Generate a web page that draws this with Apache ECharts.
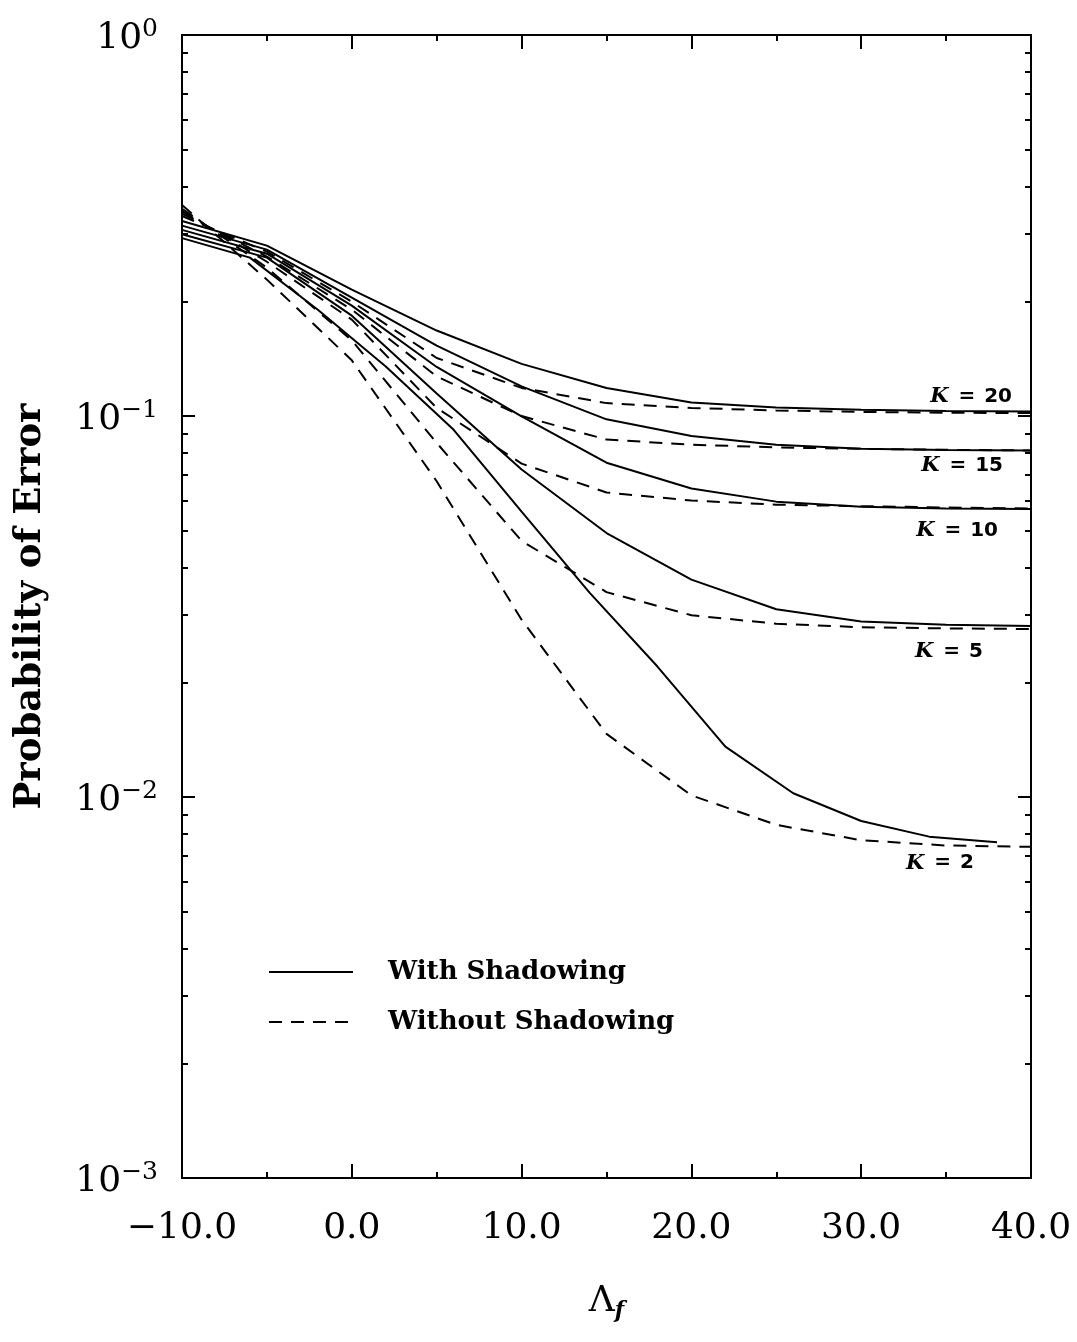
<!DOCTYPE html>
<html>
<head>
<meta charset="utf-8">
<script src="https://cdn.jsdelivr.net/npm/echarts@6/dist/echarts.min.js"></script>
<style>
  html, body { margin: 0; padding: 0; background: #fff; }
  #chart { width: 1077px; height: 1342px; }
</style>
</head>
<body>
<div id="chart"></div>
<script>
// Λf sample points (dB)
const lambdaSteps   = [-10, -5, 0, 5, 10, 15, 20, 25, 30, 35, 40];
const lambdaStepsK2 = [-10, -6, -2, 2, 6, 10, 14, 18, 22, 26, 30, 34, 38];

// Probability of error with shadowing (solid curves)
const shadowK20 = [0.325, 0.280, 0.2146, 0.1676, 0.137, 0.1185, 0.1085, 0.1052, 0.1038, 0.1031, 0.1027];
const shadowK15 = [0.316, 0.2733, 0.2045, 0.153, 0.1196, 0.098, 0.0886, 0.0840, 0.0820, 0.0814, 0.0812];
const shadowK10 = [0.308, 0.2667, 0.1949, 0.1345, 0.0998, 0.0754, 0.0645, 0.0596, 0.0578, 0.0572, 0.0570];
const shadowK5  = [0.300, 0.2604, 0.1834, 0.1146, 0.0724, 0.0493, 0.0372, 0.0311, 0.0289, 0.0283, 0.0281];
const shadowK2  = [0.293, 0.2604, 0.190, 0.1348, 0.092, 0.0561, 0.0344, 0.022, 0.01356, 0.01023, 0.00865, 0.00787, 0.00761];

// Probability of error without shadowing (dashed curves)
const noShadowK20 = [0.335, 0.270, 0.1996, 0.142, 0.1185, 0.1081, 0.105, 0.1034, 0.1025, 0.102, 0.1018];
const noShadowK15 = [0.340, 0.262, 0.1902, 0.127, 0.100, 0.0867, 0.0841, 0.0827, 0.082, 0.0815, 0.0812];
const noShadowK10 = [0.345, 0.254, 0.179, 0.105, 0.075, 0.063, 0.060, 0.0585, 0.058, 0.0575, 0.0572];
const noShadowK5  = [0.350, 0.245, 0.158, 0.085, 0.047, 0.0345, 0.030, 0.0285, 0.0279, 0.0277, 0.0276];
const noShadowK2  = [0.358, 0.228, 0.140, 0.0674, 0.0292, 0.01464, 0.0101, 0.00845, 0.0077, 0.00746, 0.0074];

// Axis ticks
const yMajorTicks = [0.001, 0.01, 0.1, 1];
const yMinorTicks = [];
[0.001, 0.01, 0.1].forEach(function (d) {
  for (let m = 2; m <= 9; m++) yMinorTicks.push(+(d * m).toPrecision(3));
});

const curves = [
  { k: 20, xs: lambdaSteps,   solid: shadowK20, dashed: noShadowK20 },
  { k: 15, xs: lambdaSteps,   solid: shadowK15, dashed: noShadowK15 },
  { k: 10, xs: lambdaSteps,   solid: shadowK10, dashed: noShadowK10 },
  { k: 5,  xs: lambdaSteps,   solid: shadowK5,  dashed: noShadowK5 },
  { k: 2,  xs: lambdaStepsK2, solid: shadowK2,  dashed: noShadowK2 }
];

// Where each "K = n" tag sits relative to the end of its solid curve
const tagOffset = { 20: [-19, -15], 15: [-28, 15], 10: [-33, 22], 5: [-48, 26], 2: [-23, 21] };

function zip(xs, ys) { return xs.map(function (x, i) { return [x, ys[i]]; }); }

const SERIF = "'DejaVu Serif', serif";
const SANS = "'DejaVu Sans', 'Liberation Sans', sans-serif";

const series = [];
curves.forEach(function (c) {
  series.push({
    name: 'With Shadowing',
    type: 'line',
    data: zip(c.xs, c.solid),
    symbol: 'none',
    smooth: false,
    silent: true,
    lineStyle: { color: '#000', width: 2, type: 'solid' },
    itemStyle: { color: '#000' },
    endLabel: {
      show: true,
      distance: 0,
      align: 'right',
      verticalAlign: 'middle',
      offset: tagOffset[c.k],
      formatter: '{k|K}{e|=}{t|' + c.k + '}',
      rich: {
        k: { fontFamily: SERIF, fontStyle: 'italic', fontWeight: 'bold', fontSize: 21, color: '#000' },
        e: { fontFamily: SANS, fontWeight: 'bold', fontSize: 20, color: '#000', padding: [0, 9, 0, 10] },
        t: { fontFamily: SANS, fontWeight: 'bold', fontSize: 20, color: '#000' }
      }
    },
    z: 3
  });
  series.push({
    name: 'Without Shadowing',
    type: 'line',
    data: zip(lambdaSteps, c.dashed),
    symbol: 'none',
    smooth: false,
    silent: true,
    lineStyle: { color: '#000', width: 2, type: [13, 9] },
    itemStyle: { color: '#000' },
    z: 2
  });
});

function powerLabel(v) {
  const e = Math.round(Math.log10(v));
  return '{b|10}{s|' + (e === 0 ? '0' : '\u2212' + (-e)) + '}';
}
const powerRich = {
  b: { fontFamily: SERIF, fontSize: 36, lineHeight: 36, padding: [8, 0, 0, 0], color: '#000' },
  s: { fontFamily: SERIF, fontSize: 25, lineHeight: 25, verticalAlign: 'top', color: '#000' }
};

const frameLine = { show: true, onZero: false, lineStyle: { color: '#000', width: 2 } };
const noLine = { show: false, onZero: false };

function yAxisDef(position, major) {
  return {
    type: 'log',
    logBase: 10,
    min: 0.001,
    max: 1,
    position: position,
    axisLine: major ? frameLine : noLine,
    splitLine: { show: false },
    minorTick: { show: false },
    axisTick: {
      show: true,
      inside: true,
      length: major ? 13 : 6,
      lineStyle: { color: '#000', width: 2 },
      customValues: major ? yMajorTicks : yMinorTicks
    },
    axisLabel: (major && position === 'left') ? {
      show: true,
      customValues: yMajorTicks,
      showMinLabel: true,
      showMaxLabel: true,
      margin: 24,
      formatter: powerLabel,
      rich: powerRich
    } : { show: false }
  };
}

function xAxisDef(position, major) {
  return {
    type: 'value',
    min: -10,
    max: 40,
    interval: major ? 10 : 5,
    position: position,
    axisLine: major ? frameLine : noLine,
    splitLine: { show: false },
    minorTick: { show: false },
    axisTick: {
      show: true,
      inside: true,
      length: major ? 14 : 6,
      lineStyle: { color: '#000', width: 2 }
    },
    axisLabel: (major && position === 'bottom') ? {
      show: true,
      showMinLabel: true,
      showMaxLabel: true,
      margin: 33,
      fontFamily: SERIF,
      fontSize: 36,
      color: '#000',
      formatter: function (v) { return (v < 0 ? '\u2212' : '') + Math.abs(v).toFixed(1); }
    } : { show: false }
  };
}

const xAxes = [xAxisDef('bottom', true), xAxisDef('bottom', false), xAxisDef('top', true), xAxisDef('top', false)];
xAxes[0].name = '{L|\u039B}{f|f}';
xAxes[0].nameLocation = 'middle';
xAxes[0].nameGap = 104;
xAxes[0].nameTextStyle = {
  rich: {
    L: { fontFamily: SERIF, fontSize: 36, color: '#000' },
    f: { fontFamily: SERIF, fontStyle: 'italic', fontWeight: 'bold', fontSize: 22, color: '#000', verticalAlign: 'bottom', padding: [18, 0, 0, 0] }
  }
};

const yAxes = [yAxisDef('left', true), yAxisDef('left', false), yAxisDef('right', true), yAxisDef('right', false)];
yAxes[0].name = 'Probability of Error';
yAxes[0].nameLocation = 'middle';
yAxes[0].nameRotate = 90;
yAxes[0].nameGap = 133;
yAxes[0].nameTextStyle = { fontFamily: SERIF, fontWeight: 'bold', fontSize: 37, color: '#000' };

const chart = echarts.init(document.getElementById('chart'), null, { renderer: 'canvas' });
chart.setOption({
  animation: false,
  backgroundColor: '#fff',
  grid: { left: 182, right: 46, top: 35, bottom: 164, containLabel: false, outerBoundsMode: 'none' },
  legend: {
    data: ['With Shadowing', 'Without Shadowing'],
    orient: 'vertical',
    left: 268,
    top: 957,
    padding: 0,
    itemWidth: 84,
    itemHeight: 14,
    itemGap: 20,
    selectedMode: false,
    itemStyle: { color: 'rgba(0,0,0,0)', borderWidth: 0, borderColor: 'rgba(0,0,0,0)' },
    textStyle: { fontFamily: SERIF, fontWeight: 'bold', fontSize: 26, lineHeight: 30, color: '#000', padding: [0, 0, 0, 30] }
  },
  xAxis: xAxes,
  yAxis: yAxes,
  series: series
});
</script>
</body>
</html>
